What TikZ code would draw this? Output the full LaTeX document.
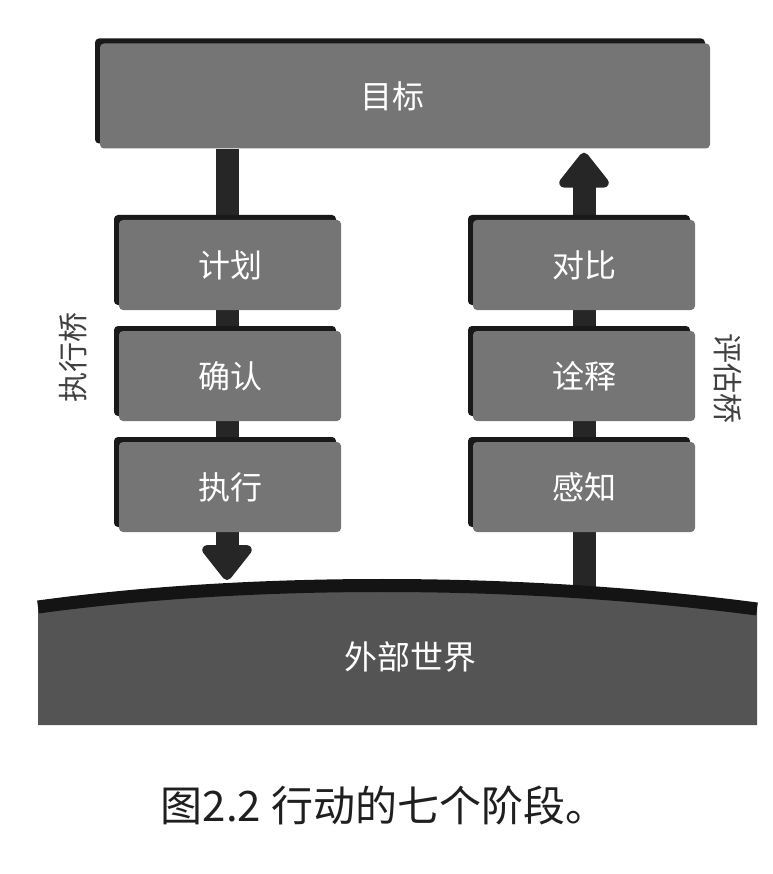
\documentclass[tikz,border=0pt]{standalone}
\usepackage{fontspec}
\newfontfamily\cjk{Noto Sans CJK SC}
\usetikzlibrary{arrows.meta, positioning, shadows, backgrounds}

\begin{document}
\begin{tikzpicture}
[
  x=1pt, y=-1pt,
  stage/.style={fill=black!54, rounded corners=4pt, minimum width=222pt, minimum height=90pt,
    inner sep=0pt, text=white, font=\cjk\fontsize{32}{32}\selectfont,
    general shadow={fill=black!90, shadow xshift=-5pt, shadow yshift=5pt}},
  bridge/.style={text=black!75, inner sep=0pt, font=\cjk\fontsize{30}{30}\selectfont},
  bar/.style={draw=black!85, line width=23pt}
]
\useasboundingbox (0,0) rectangle (772,874);

\node[stage, minimum width=610pt, minimum height=105pt] (goal) at (405,96) {目标\hspace*{26pt}};

\node[stage] (plan) at (230,265) {计划};
\node[stage] (specify) at (230,376) {确认};
\node[stage] (perform) at (230,487) {执行};

\node[stage] (compare) at (584,265) {对比};
\node[stage] (interpret) at (584,376) {诠释};
\node[stage] (perceive) at (584,487) {感知};

\node[bridge, rotate=90] (exec) at (73,357) {执行桥};
\node[bridge, rotate=-90] (eval) at (728,378) {评估桥};

% world
\fill[black!67] (38,725) -- (38,607) .. controls (250,578) and (520,578) .. (757,609) -- (757,725) -- cycle;
\draw[black!92, line width=13pt] (38,607) .. controls (250,578) and (520,578) .. (757,609);
\node[text=white, font=\cjk\fontsize{33}{33}\selectfont] (world) at (410,657) {外部世界};

\coordinate (groundin) at (227,580);
\coordinate (groundout) at (584,592);

\begin{scope}[on background layer]
\draw[bar, -{Triangle[width=57pt, length=38pt, round]}] (goal.south -| groundin) -- (groundin);
\draw[bar, -{Triangle[width=57pt, length=38pt, round]}, shorten >=4pt] (groundout) -- (goal.south -| groundout);
\end{scope}

\node[text=black!88, font=\cjk\fontsize{42}{42}\selectfont] (caption) at (384,805) {图2.2\hspace{10pt}行动的七个阶段。};
\end{tikzpicture}
\end{document}
